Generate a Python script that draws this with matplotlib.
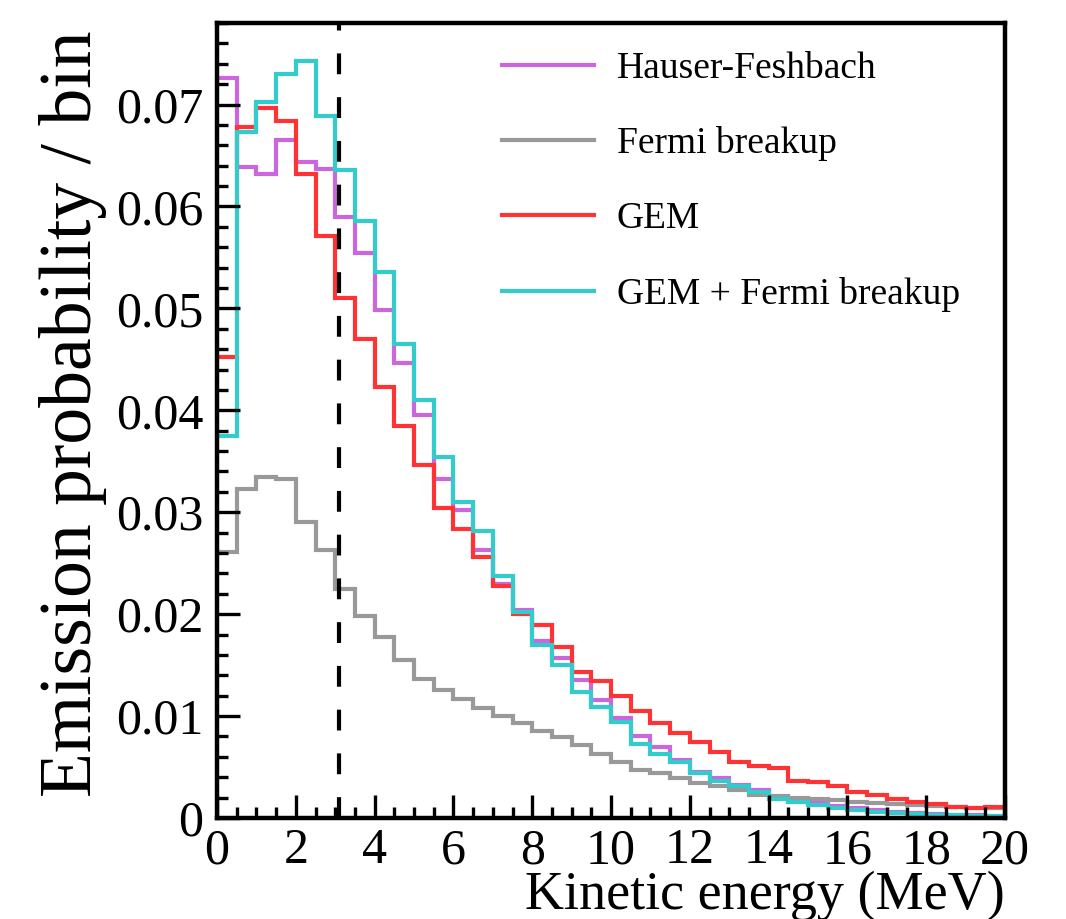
import numpy as np
import matplotlib
matplotlib.use("Agg")
import matplotlib.pyplot as plt
from matplotlib.ticker import MultipleLocator

# bin edges: 0-20 MeV in 0.5 MeV bins
edges = np.arange(0, 20.5, 0.5)

hauser_feshbach = [
    0.0726, 0.0639, 0.0632, 0.0665, 0.0644, 0.0637, 0.0590, 0.0554, 0.0498, 0.0446,
    0.0395, 0.0333, 0.0302, 0.0263, 0.0230, 0.0204, 0.0174, 0.0157, 0.0135, 0.0116,
    0.0098, 0.0080, 0.0070, 0.0057, 0.0045, 0.0039, 0.0032, 0.0027, 0.0021, 0.0018,
    0.0015, 0.0012, 0.0010, 0.0008, 0.0006, 0.0005, 0.0004, 0.0003, 0.0003, 0.0002,
]
fermi_breakup = [
    0.0261, 0.0323, 0.0335, 0.0333, 0.0290, 0.0263, 0.0225, 0.0198, 0.0178, 0.0155,
    0.0136, 0.0126, 0.0117, 0.0108, 0.0100, 0.0093, 0.0085, 0.0079, 0.0072, 0.0063,
    0.0055, 0.0047, 0.0044, 0.0039, 0.0034, 0.0031, 0.0027, 0.0023, 0.0022, 0.0020,
    0.0019, 0.0018, 0.0016, 0.0015, 0.0014, 0.0013, 0.0012, 0.0011, 0.0010, 0.0010,
]
gem = [
    0.0452, 0.0678, 0.0697, 0.0684, 0.0632, 0.0571, 0.0510, 0.0470, 0.0423, 0.0385,
    0.0346, 0.0304, 0.0284, 0.0256, 0.0228, 0.0200, 0.0189, 0.0168, 0.0143, 0.0134,
    0.0120, 0.0105, 0.0093, 0.0083, 0.0075, 0.0065, 0.0055, 0.0051, 0.0049, 0.0036,
    0.0035, 0.0031, 0.0026, 0.0023, 0.0019, 0.0016, 0.0014, 0.0011, 0.0010, 0.0011,
]
gem_fermi = [
    0.0375, 0.0673, 0.0702, 0.0730, 0.0743, 0.0689, 0.0636, 0.0586, 0.0536, 0.0465,
    0.0410, 0.0354, 0.0310, 0.0282, 0.0237, 0.0202, 0.0170, 0.0150, 0.0124, 0.0109,
    0.0094, 0.0073, 0.0063, 0.0055, 0.0044, 0.0036, 0.0031, 0.0026, 0.0019, 0.0016,
    0.0013, 0.0010, 0.0008, 0.0006, 0.0005, 0.0004, 0.0003, 0.0003, 0.0002, 0.0002,
]
cut_energy = 3.1

plt.rcParams['font.family'] = 'Liberation Serif'

fig = plt.figure(figsize=(10.66, 9.19), dpi=100)
ax = fig.add_axes([0.2036, 0.1099, 0.7392, 0.8651])

lw = 3.0
series = [
    (hauser_feshbach, 'Hauser-Feshbach', '#cc66dd'),
    (fermi_breakup, 'Fermi breakup', '#999999'),
    (gem, 'GEM', '#ff3333'),
    (gem_fermi, 'GEM + Fermi breakup', '#33cccc'),
]
handles = []
for vals, label, color in series:
    ax.stairs(vals, edges, baseline=None, color=color, linewidth=lw)
    h, = ax.plot([], [], color=color, linewidth=lw, label=label)
    handles.append(h)

# dashed vertical marker
ax.axvline(cut_energy, color='black', linewidth=3.0, dashes=(5, 5.5))

ax.set_xlim(0, 20)
ax.set_ylim(0, 0.078)

ax.xaxis.set_major_locator(MultipleLocator(2))
ax.xaxis.set_minor_locator(MultipleLocator(0.5))
ax.yaxis.set_minor_locator(MultipleLocator(0.002))
ax.set_yticks([0, 0.01, 0.02, 0.03, 0.04, 0.05, 0.06, 0.07])
ax.set_yticklabels(['0', '0.01', '0.02', '0.03', '0.04', '0.05', '0.06', '0.07'])

ax.tick_params(which='both', direction='in', top=False, right=False, width=2.4,
               labelsize=36)
ax.tick_params(which='major', length=16.5, pad=10)
ax.tick_params(axis='x', which='major', pad=7)
ax.tick_params(which='minor', length=8)
for sp in ax.spines.values():
    sp.set_linewidth(3.2)

ax.set_xlabel('Kinetic energy (MeV)', fontsize=39, loc='right')
ax.xaxis.set_label_coords(1.0, -0.066)
ax.set_ylabel('Emission probability / bin', fontsize=53, loc='top')
ax.yaxis.set_label_coords(-0.14, 0.99)

ax.legend(handles=handles, loc='upper left', bbox_to_anchor=(0.343, 0.983),
          frameon=False, fontsize=27, handlelength=2.45, handletextpad=0.6,
          labelspacing=1.08, borderaxespad=0)

fig.savefig('out.png', dpi=100)
